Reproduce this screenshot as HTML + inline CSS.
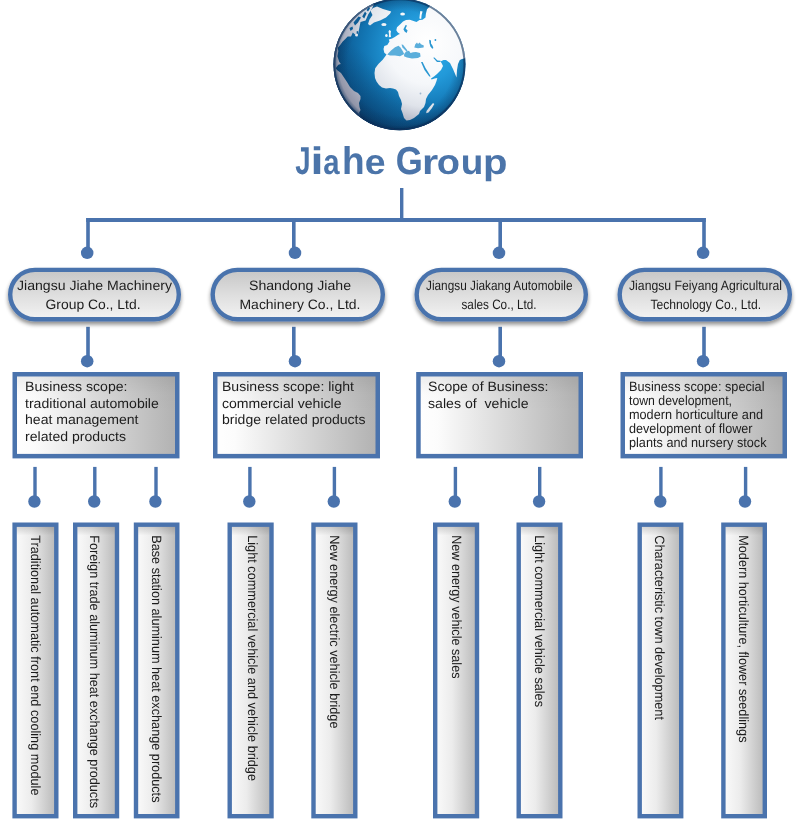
<!DOCTYPE html>
<html><head><meta charset="utf-8"><title>Jiahe Group</title>
<style>
html,body{margin:0;padding:0;background:#fff;}
body{width:800px;height:819px;overflow:hidden;font-family:"Liberation Sans",sans-serif;}
svg{display:block}
svg text{font-family:"Liberation Sans",sans-serif;text-rendering:geometricPrecision;}
</style></head><body>
<svg width="800" height="819" viewBox="0 0 800 819">
<defs>
<linearGradient id="gpill" x1="0" y1="0" x2="0" y2="1">
<stop offset="0" stop-color="#c6c6c6"/><stop offset="0.5" stop-color="#dedede"/><stop offset="1" stop-color="#f3f3f3"/>
</linearGradient>
<linearGradient id="gbox" x1="0" y1="0" x2="1" y2="0">
<stop offset="0" stop-color="#ffffff"/><stop offset="0.12" stop-color="#fcfcfc"/><stop offset="1" stop-color="#b1b1b1"/>
</linearGradient>
<linearGradient id="gtop" x1="0" y1="0" x2="0" y2="1">
<stop offset="0" stop-color="#000" stop-opacity="0.07"/><stop offset="0.22" stop-color="#000" stop-opacity="0.015"/><stop offset="0.45" stop-color="#000" stop-opacity="0"/>
</linearGradient>
<linearGradient id="gvbox" x1="0" y1="0" x2="1" y2="0">
<stop offset="0" stop-color="#fbfbfb"/><stop offset="0.4" stop-color="#ececec"/><stop offset="1" stop-color="#b8b8b8"/>
</linearGradient>
<linearGradient id="gvtop" x1="0" y1="0" x2="0" y2="1">
<stop offset="0" stop-color="#000" stop-opacity="0.14"/><stop offset="0.03" stop-color="#000" stop-opacity="0"/>
</linearGradient>
<filter id="sh" x="-10%" y="-20%" width="120%" height="160%">
<feGaussianBlur in="SourceAlpha" stdDeviation="2.2"/><feOffset dx="0" dy="3"/>
<feComponentTransfer><feFuncA type="linear" slope="0.45"/></feComponentTransfer>
<feMerge><feMergeNode/><feMergeNode in="SourceGraphic"/></feMerge>
</filter>
<clipPath id="gclip"><circle cx="399.5" cy="64.3" r="66"/></clipPath>
<radialGradient id="gocean" gradientUnits="userSpaceOnUse" cx="425" cy="48" r="110">
<stop offset="0" stop-color="#32b0ec"/><stop offset="0.3" stop-color="#2299d9"/><stop offset="0.55" stop-color="#1377b5"/><stop offset="0.75" stop-color="#0d5c95"/><stop offset="1" stop-color="#093f6e"/>
</radialGradient>
<radialGradient id="gland" gradientUnits="userSpaceOnUse" cx="428" cy="42" r="105">
<stop offset="0" stop-color="#ffffff"/><stop offset="0.4" stop-color="#f5f7fa"/><stop offset="0.62" stop-color="#dfe3ea"/><stop offset="0.77" stop-color="#b4b8c7"/><stop offset="1" stop-color="#7f8398"/>
</radialGradient>
<radialGradient id="gedge" gradientUnits="userSpaceOnUse" cx="401.5" cy="62.5" r="68.8">
<stop offset="0" stop-color="#0a3560" stop-opacity="0"/><stop offset="0.92" stop-color="#0a3560" stop-opacity="0"/><stop offset="0.965" stop-color="#0a3560" stop-opacity="0.4"/><stop offset="1" stop-color="#0a3560" stop-opacity="1"/>
</radialGradient>
<radialGradient id="gedgeo" gradientUnits="userSpaceOnUse" cx="400.7" cy="63.2" r="67.8">
<stop offset="0" stop-color="#082e55" stop-opacity="0"/><stop offset="0.78" stop-color="#082e55" stop-opacity="0"/><stop offset="0.92" stop-color="#082e55" stop-opacity="0.3"/><stop offset="1" stop-color="#082e55" stop-opacity="0.8"/>
</radialGradient>
<linearGradient id="gshade" gradientUnits="userSpaceOnUse" x1="440" y1="10" x2="360" y2="125">
<stop offset="0" stop-color="#03284d" stop-opacity="0"/><stop offset="0.55" stop-color="#03284d" stop-opacity="0"/><stop offset="1" stop-color="#03284d" stop-opacity="0.42"/>
</linearGradient>
<filter id="soft" x="-5%" y="-5%" width="110%" height="110%"><feGaussianBlur stdDeviation="0.45"/></filter>

</defs>
<rect width="800" height="819" fill="#fff"/>

<g fill="#4a73ad" stroke="none">
<rect x="400" y="188" width="3.4" height="32"/>
<rect x="86.2" y="218" width="619.6" height="4"/>
<rect x="86.2" y="218" width="3.6" height="35"/>
<circle cx="87.2" cy="252.8" r="6.25"/>
<rect x="86.2" y="326.8" width="3.6" height="34"/>
<circle cx="87.2" cy="361.2" r="6.25"/>
<rect x="292.0" y="218" width="3.6" height="35"/>
<circle cx="295.0" cy="252.8" r="6.25"/>
<rect x="292.0" y="326.8" width="3.6" height="34"/>
<circle cx="295.0" cy="361.2" r="6.25"/>
<rect x="498.4" y="218" width="3.6" height="35"/>
<circle cx="499.0" cy="252.8" r="6.25"/>
<rect x="498.4" y="326.8" width="3.6" height="34"/>
<circle cx="499.0" cy="361.2" r="6.25"/>
<rect x="702.2" y="218" width="3.6" height="35"/>
<circle cx="703.1" cy="252.8" r="6.25"/>
<rect x="702.2" y="326.8" width="3.6" height="34"/>
<circle cx="703.1" cy="361.2" r="6.25"/>
<rect x="33.3" y="466.9" width="3.4" height="35"/>
<circle cx="34.4" cy="501.5" r="6.2"/>
<rect x="93.1" y="466.9" width="3.4" height="35"/>
<circle cx="94.2" cy="501.5" r="6.2"/>
<rect x="154.3" y="466.9" width="3.4" height="35"/>
<circle cx="155.4" cy="501.5" r="6.2"/>
<rect x="248.2" y="466.9" width="3.4" height="35"/>
<circle cx="249.3" cy="501.5" r="6.2"/>
<rect x="332.7" y="466.9" width="3.4" height="35"/>
<circle cx="333.8" cy="501.5" r="6.2"/>
<rect x="453.7" y="466.9" width="3.4" height="35"/>
<circle cx="454.8" cy="501.5" r="6.2"/>
<rect x="538.0" y="466.9" width="3.4" height="35"/>
<circle cx="539.1" cy="501.5" r="6.2"/>
<rect x="659.2" y="466.9" width="3.4" height="35"/>
<circle cx="660.3" cy="501.5" r="6.2"/>
<rect x="743.9" y="466.9" width="3.4" height="35"/>
<circle cx="745.0" cy="501.5" r="6.2"/>
</g>
<rect x="10.2" y="269.9" width="168.6" height="49.40000000000001" rx="24.700000000000006" fill="url(#gpill)" stroke="#4a73ad" stroke-width="4.4" filter="url(#sh)"/>
<g opacity="0.999"><text x="17" y="289.6" font-size="13.6" fill="#1c1c1c" textLength="155" lengthAdjust="spacingAndGlyphs">Jiangsu Jiahe Machinery</text></g>
<g opacity="0.999"><text x="45.5" y="308.8" font-size="13.6" fill="#1c1c1c" textLength="95.0" lengthAdjust="spacingAndGlyphs">Group Co., Ltd.</text></g>
<rect x="212.7" y="269.9" width="170.1" height="49.40000000000001" rx="24.700000000000006" fill="url(#gpill)" stroke="#4a73ad" stroke-width="4.4" filter="url(#sh)"/>
<g opacity="0.999"><text x="249" y="289.6" font-size="13.6" fill="#1c1c1c" textLength="102" lengthAdjust="spacingAndGlyphs">Shandong Jiahe</text></g>
<g opacity="0.999"><text x="239.5" y="308.8" font-size="13.6" fill="#1c1c1c" textLength="121.0" lengthAdjust="spacingAndGlyphs">Machinery Co., Ltd.</text></g>
<rect x="416.7" y="269.9" width="169.1" height="49.40000000000001" rx="24.700000000000006" fill="url(#gpill)" stroke="#4a73ad" stroke-width="4.4" filter="url(#sh)"/>
<g opacity="0.999"><text x="426" y="289.6" font-size="13.6" fill="#1c1c1c" textLength="146.5" lengthAdjust="spacingAndGlyphs">Jiangsu Jiakang Automobile</text></g>
<g opacity="0.999"><text x="461.5" y="308.8" font-size="13.6" fill="#1c1c1c" textLength="75.0" lengthAdjust="spacingAndGlyphs">sales Co., Ltd.</text></g>
<rect x="619.7" y="269.9" width="170.1" height="49.40000000000001" rx="24.700000000000006" fill="url(#gpill)" stroke="#4a73ad" stroke-width="4.4" filter="url(#sh)"/>
<g opacity="0.999"><text x="629" y="289.6" font-size="13.6" fill="#1c1c1c" textLength="153" lengthAdjust="spacingAndGlyphs">Jiangsu Feiyang Agricultural</text></g>
<g opacity="0.999"><text x="650.5" y="308.8" font-size="13.6" fill="#1c1c1c" textLength="110.5" lengthAdjust="spacingAndGlyphs">Technology Co., Ltd.</text></g>
<rect x="14.75" y="374.25" width="162.50" height="81.90" fill="url(#gbox)" stroke="#4a73ad" stroke-width="4.5"/>
<rect x="17.00" y="376.50" width="158.00" height="77.40" fill="url(#gtop)"/>
<g opacity="0.999"><text x="25" y="391.2" font-size="13.5" fill="#1c1c1c" textLength="102.5" lengthAdjust="spacingAndGlyphs" xml:space="preserve">Business scope:</text></g>
<g opacity="0.999"><text x="25" y="407.6" font-size="13.5" fill="#1c1c1c" textLength="133.8" lengthAdjust="spacingAndGlyphs" xml:space="preserve">traditional automobile</text></g>
<g opacity="0.999"><text x="25" y="424.4" font-size="13.5" fill="#1c1c1c" textLength="113.5" lengthAdjust="spacingAndGlyphs" xml:space="preserve">heat management</text></g>
<g opacity="0.999"><text x="25" y="441.2" font-size="13.5" fill="#1c1c1c" textLength="101" lengthAdjust="spacingAndGlyphs" xml:space="preserve">related products</text></g>
<rect x="215.25" y="374.25" width="162.50" height="81.90" fill="url(#gbox)" stroke="#4a73ad" stroke-width="4.5"/>
<rect x="217.50" y="376.50" width="158.00" height="77.40" fill="url(#gtop)"/>
<g opacity="0.999"><text x="222" y="391.2" font-size="13.5" fill="#1c1c1c" textLength="132" lengthAdjust="spacingAndGlyphs" xml:space="preserve">Business scope: light</text></g>
<g opacity="0.999"><text x="222" y="407.6" font-size="13.5" fill="#1c1c1c" textLength="119.5" lengthAdjust="spacingAndGlyphs" xml:space="preserve">commercial vehicle</text></g>
<g opacity="0.999"><text x="222" y="424.4" font-size="13.5" fill="#1c1c1c" textLength="143.5" lengthAdjust="spacingAndGlyphs" xml:space="preserve">bridge related products</text></g>
<rect x="418.45" y="374.25" width="162.30" height="81.90" fill="url(#gbox)" stroke="#4a73ad" stroke-width="4.5"/>
<rect x="420.70" y="376.50" width="157.80" height="77.40" fill="url(#gtop)"/>
<g opacity="0.999"><text x="428" y="391.2" font-size="13.5" fill="#1c1c1c" textLength="120.5" lengthAdjust="spacingAndGlyphs" xml:space="preserve">Scope of Business:</text></g>
<g opacity="0.999"><text x="428" y="407.6" font-size="13.5" fill="#1c1c1c" textLength="100.5" lengthAdjust="spacingAndGlyphs" xml:space="preserve">sales of  vehicle</text></g>
<rect x="622.75" y="374.25" width="162.00" height="81.90" fill="url(#gbox)" stroke="#4a73ad" stroke-width="4.5"/>
<rect x="625.00" y="376.50" width="157.50" height="77.40" fill="url(#gtop)"/>
<g opacity="0.999"><text x="629" y="390.8" font-size="13.5" fill="#1c1c1c" textLength="135.5" lengthAdjust="spacingAndGlyphs" xml:space="preserve">Business scope: special</text></g>
<g opacity="0.999"><text x="629" y="405" font-size="13.5" fill="#1c1c1c" textLength="103" lengthAdjust="spacingAndGlyphs" xml:space="preserve">town development,</text></g>
<g opacity="0.999"><text x="629" y="419" font-size="13.5" fill="#1c1c1c" textLength="134" lengthAdjust="spacingAndGlyphs" xml:space="preserve">modern horticulture and</text></g>
<g opacity="0.999"><text x="629" y="433.2" font-size="13.5" fill="#1c1c1c" textLength="123.5" lengthAdjust="spacingAndGlyphs" xml:space="preserve">development of flower</text></g>
<g opacity="0.999"><text x="629" y="447.4" font-size="13.5" fill="#1c1c1c" textLength="137.5" lengthAdjust="spacingAndGlyphs" xml:space="preserve">plants and nursery stock</text></g>
<rect x="14.60" y="524.70" width="41.70" height="291.50" fill="url(#gvbox)" stroke="#4a73ad" stroke-width="4.4"/>
<rect x="16.80" y="526.90" width="37.30" height="287.10" fill="url(#gvtop)"/>
<g opacity="0.999"><text transform="translate(31.3,535.2) rotate(90)" font-size="13.5" fill="#1c1c1c" textLength="260.3" lengthAdjust="spacingAndGlyphs">Traditional automatic front end cooling module</text></g>
<rect x="75.20" y="524.70" width="41.80" height="291.50" fill="url(#gvbox)" stroke="#4a73ad" stroke-width="4.4"/>
<rect x="77.40" y="526.90" width="37.40" height="287.10" fill="url(#gvtop)"/>
<g opacity="0.999"><text transform="translate(89.6,535.2) rotate(90)" font-size="13.5" fill="#1c1c1c" textLength="272.8" lengthAdjust="spacingAndGlyphs">Foreign trade aluminum heat exchange products</text></g>
<rect x="136.00" y="524.70" width="41.30" height="291.50" fill="url(#gvbox)" stroke="#4a73ad" stroke-width="4.4"/>
<rect x="138.20" y="526.90" width="36.90" height="287.10" fill="url(#gvtop)"/>
<g opacity="0.999"><text transform="translate(151.8,535.2) rotate(90)" font-size="13.5" fill="#1c1c1c" textLength="267.3" lengthAdjust="spacingAndGlyphs">Base station aluminum heat exchange products</text></g>
<rect x="229.70" y="524.70" width="41.80" height="291.50" fill="url(#gvbox)" stroke="#4a73ad" stroke-width="4.4"/>
<rect x="231.90" y="526.90" width="37.40" height="287.10" fill="url(#gvtop)"/>
<g opacity="0.999"><text transform="translate(247.6,535.2) rotate(90)" font-size="13.5" fill="#1c1c1c" textLength="245.8" lengthAdjust="spacingAndGlyphs">Light commercial vehicle and vehicle bridge</text></g>
<rect x="313.50" y="524.70" width="41.80" height="291.50" fill="url(#gvbox)" stroke="#4a73ad" stroke-width="4.4"/>
<rect x="315.70" y="526.90" width="37.40" height="287.10" fill="url(#gvtop)"/>
<g opacity="0.999"><text transform="translate(329.5,535.2) rotate(90)" font-size="13.5" fill="#1c1c1c" textLength="193.3" lengthAdjust="spacingAndGlyphs">New energy electric vehicle bridge</text></g>
<rect x="435.20" y="524.70" width="41.80" height="291.50" fill="url(#gvbox)" stroke="#4a73ad" stroke-width="4.4"/>
<rect x="437.40" y="526.90" width="37.40" height="287.10" fill="url(#gvtop)"/>
<g opacity="0.999"><text transform="translate(452.4,535.2) rotate(90)" font-size="13.5" fill="#1c1c1c" textLength="143.3" lengthAdjust="spacingAndGlyphs">New energy vehicle sales</text></g>
<rect x="518.70" y="524.70" width="41.60" height="291.50" fill="url(#gvbox)" stroke="#4a73ad" stroke-width="4.4"/>
<rect x="520.90" y="526.90" width="37.20" height="287.10" fill="url(#gvtop)"/>
<g opacity="0.999"><text transform="translate(535.2,535.2) rotate(90)" font-size="13.5" fill="#1c1c1c" textLength="171.8" lengthAdjust="spacingAndGlyphs">Light commercial vehicle sales</text></g>
<rect x="639.70" y="524.70" width="41.50" height="291.50" fill="url(#gvbox)" stroke="#4a73ad" stroke-width="4.4"/>
<rect x="641.90" y="526.90" width="37.10" height="287.10" fill="url(#gvtop)"/>
<g opacity="0.999"><text transform="translate(655,535.2) rotate(90)" font-size="13.5" fill="#1c1c1c" textLength="184.8" lengthAdjust="spacingAndGlyphs">Characteristic town development</text></g>
<rect x="723.40" y="524.70" width="41.40" height="291.50" fill="url(#gvbox)" stroke="#4a73ad" stroke-width="4.4"/>
<rect x="725.60" y="526.90" width="37.00" height="287.10" fill="url(#gvtop)"/>
<g opacity="0.999"><text transform="translate(738.9,535.2) rotate(90)" font-size="13.5" fill="#1c1c1c" textLength="207.3" lengthAdjust="spacingAndGlyphs">Modern horticulture, flower seedlings</text></g>
<g opacity="0.999"><g font-size="39" font-weight="bold" fill="#4b74a9">
<text transform="translate(295.29,173.7) scale(0.706,1.000)">J</text>
<text transform="translate(310.40,173.7) scale(1.200,0.979)">i</text>
<text transform="translate(323.25,173.7) scale(0.752,0.900)">a</text>
<text transform="translate(342.05,173.7) scale(0.950,0.989)">h</text>
<text transform="translate(364.78,173.7) scale(0.961,0.900)">e</text>
<text transform="translate(395.72,173.7) scale(0.892,1.000)">G</text>
<text transform="translate(422.00,173.7) scale(1.067,0.900)">r</text>
<text transform="translate(436.75,173.7) scale(0.975,0.900)">o</text>
<text transform="translate(460.81,173.7) scale(0.947,0.900)">u</text>
<text transform="translate(482.92,173.7) scale(1.026,0.900)">p</text>
</g></g>
<g clip-path="url(#gclip)">
<circle cx="399.5" cy="64.3" r="66.5" fill="url(#gocean)"/>
<circle cx="399.5" cy="64.3" r="66.5" fill="url(#gshade)"/>
<circle cx="399.5" cy="64.3" r="66.5" fill="url(#gedgeo)"/>
<g filter="url(#soft)">
<g fill="url(#gland)">
<!-- Eurasia + Africa -->
<path d="M431,0 L429.3,7 L427,9.3 L425.9,13.8 L425.5,17.5 L422.5,19.8 L419.5,20.1 L416.5,22 L413.5,20.9 L409.8,19.8 L406,20.1 L403,21.6 L400,24.6 L397,27.3 L396.3,30.3 L397.8,32.5 L400,34 L398.5,34.6 L394.8,37 L392.1,38.5 L388.8,39.6 L389.5,41.5 L387.3,44.9 L384.3,46 L383.5,49 L384.3,52.8 L386.5,54.5 L385.3,56.3 L382.7,59.7 L378.4,64 L375.2,68.2 L374.5,73 L375,78 L376.5,81.5 L379,85 L382,87.5 L386,88.5 L390,88 L393,88.5 L396,89.5 L398,92 L399,96 L401,100 L402,104 L401,109 L402.5,113 L404,118 L406.5,120.5 L410,120 L414,118 L419,114 L420,111 L424,107 L425.5,103 L426,99 L428,95 L432,90 L435,85 L436.5,81 L437.3,78 L434.5,78.4 L431.5,79.5 L431,78.5 L434,76.5 L437,74 L441,70 L443,66 L441.8,63.6 L440.5,61.5 L443.5,60 L446,60 L450,63 L453,69 L455.5,75 L456.5,77.5 L457,70 L458,64 L459.8,60 L462,59 L470,57 L480,40 L480,0 Z"/>
<!-- Greenland -->
<path d="M370.5,10.5 L373,8 L377,6.5 L383,9 L388,10.5 L391.2,11.5 L390,13.8 L386,17.5 L380,20.5 L374,22.5 L370,25.5 L368,24 L369.5,19.5 L372.5,15 L371,12 Z"/>
<ellipse cx="383.9" cy="24.4" rx="2.6" ry="1.5"/>
<ellipse cx="402.6" cy="14.1" rx="2.4" ry="1.5"/>
<path d="M420.3,11 L422.6,11.5 L421.6,15 L421.2,19 L419.4,18.6 L419.8,14.5 Z"/>
<!-- British isles -->
<path d="M389.3,30 L391,31 L390.6,34 L391,37 L388.8,37.3 L389,34 L388.5,31.5 Z"/>
<ellipse cx="386.4" cy="35.5" rx="1.3" ry="1.6"/>
<!-- Madagascar -->
<path d="M433,103 L434.3,104 L432,108 L428.5,112.5 L426.2,113.2 L426.5,111 L429.5,107 Z"/>
<!-- North America -->
<path d="M374,4 L371.6,9.3 L368.2,14.4 L365.6,20.4 L360.5,22.1 L359.6,26.4 L358.8,30.6 L357.5,36.6 L354.5,34 L352.8,32.4 L351,36.6 L347.7,36.6 L345.1,39.2 L342.5,41.8 L340,45.2 L337.8,47.7 L338.3,51.2 L337.4,56.3 L339.1,61.4 L340.8,64 L338.3,64.8 L335.7,68.2 L337,70 L341,73 L344,77.5 L347,82 L350,87 L354,91 L358,93 L360.5,96 L360.5,99 L359,103 L359.5,107 L360.5,110 L359,113 L360.5,116 L359,120 L340,110 L325,80 L325,40 L345,10 Z"/>
</g>
<!-- seas -->
<g fill="#5aaedb">
<path d="M387.3,54.6 L391,50.5 L395,47.2 L398.5,45.8 L400.5,47.5 L403,51.5 L404.2,54 L400,56.2 L395,55.6 L390,55.6 Z"/>
<path d="M404.2,54 L406,51.4 L409,50.8 L410.5,53 L413,52.2 L416,52 L420,53 L420.6,56.5 L418,58 L412,58.6 L407,57.5 L404,56.2 Z"/>
<path d="M401.5,44.5 L403,44.8 L407.5,50.5 L406.5,51.6 L402.5,47.5 Z"/>
<path d="M414.3,47.6 L415.3,44.3 L417,42.5 L418,44 L419.6,42.4 L421,44.2 L423.8,45.6 L423.6,47.6 L418,48.3 Z"/>
</g>
<g fill="#2a97d2">
<path d="M429.2,39.8 L431,40.5 L431,43.5 L432.4,45.6 L433.4,48 L432.3,48.8 L430.4,46.5 L429.4,43 Z"/>
<circle cx="435.4" cy="40" r="0.9"/>
<path d="M405.6,25 L407,25.6 L405.6,28.5 L407.6,30.6 L406.6,33 L404.6,31.6 L403.4,29.2 Z"/>
<path d="M421,62 L422.6,62 L425.5,68 L429.6,74.4 L430.6,76.4 L429.3,76.5 L424.5,70 Z"/>
<path d="M433.2,57.8 L434.5,57.6 L437.5,60.6 L440.6,60.8 L440.4,62 L437,62 Z"/>
<circle cx="420.5" cy="93.5" r="0.9" fill="#9cb6d0"/>
</g>
<!-- dark inlets N America -->
<g fill="#105d96">
<path d="M353.5,22.5 L358.5,16.5 L361,17.6 L358,22.5 L355,25.5 Z"/>
<path d="M362.2,16.5 L365,11.5 L366.6,13.5 L364.2,18.5 Z"/>
<path d="M349.5,28 L352.5,26.5 L353,29 L350.5,31 Z"/>
<path d="M366.5,10 L369,7 L370,8.5 L368,11.5 Z"/>
<path d="M356.5,31.5 L358,31 L358.2,33.5 L356.8,34 Z"/>
</g>
<ellipse cx="356.4" cy="35.3" rx="1.1" ry="1.3" fill="#e8ebf1"/>
</g>
<circle cx="399.5" cy="64.3" r="66.5" fill="url(#gedge)"/>
<circle cx="399.5" cy="64.3" r="65.1" fill="none" stroke="#0b2f58" stroke-width="2.2" stroke-opacity="0.6" filter="url(#soft)"/>
</g>

</svg></body></html>
